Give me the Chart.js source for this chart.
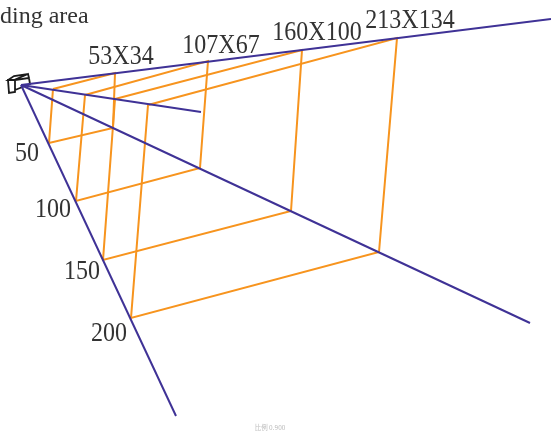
<!DOCTYPE html>
<html lang="en">
<head>
    <meta charset="UTF-8">
    <title>Sliding area</title>
    <script src="https://cdn.jsdelivr.net/npm/chart.js@4"></script>
    <style>
        html, body { margin: 0; padding: 0; background: #fff; overflow: hidden; }
        canvas { display: block; filter: blur(0.5px); }
    </style>
</head>
<body>
    <canvas id="grafica" width="551" height="434"></canvas>
    <script>
// apex of the view frustum
const apexX = 21;
const apexY = 85;

// far ends of the four blue rays
const rayEndX = [551, 201, 530, 176];
const rayEndY = [19, 112, 323, 416];

// corners of the four orange frames, nearest frame first
const topLeftX = [53, 85, 115, 148];
const topLeftY = [89, 95, 99, 105];
const topRightX = [115, 208, 302, 397];
const topRightY = [73, 61, 50, 38];
const bottomRightX = [113, 200, 291, 379];
const bottomRightY = [128, 168, 211, 252];
const bottomLeftX = [49, 76, 103, 131];
const bottomLeftY = [143, 201, 260, 318];

// camera outline
const cameraX = [15, 8, 9, 15, 15, 29, 28, 14, 8, 14, 28, 29, 30, 15];
const cameraY = [80, 80, 93, 92, 80, 78, 74, 76, 80, 80, 74, 78, 84, 90];

// labels
const depthLabels = ['50', '100', '150', '200'];
const sizeLabels = ['53X34', '107X67', '160X100', '213X134'];
const titleText = 'ding area';
const footerText = '比例 0.900';

const blue = '#3f3296';
const orange = '#f7941e';
const textColor = '#333333';
const serif = '"Liberation Serif", serif';

// label offsets from the corner they belong to, in pixels
const sizeOffsetX = [6, 13, 15, 13];
const sizeOffsetY = [-16, -15, -17, -17];
const depthOffsetX = [-22, -23, -21, -22];
const depthOffsetY = [11, 9, 12, 16];

function linea(xs, ys, color, width) {
  return {
    data: xs.map((x, i) => ({ x: x, y: ys[i] })),
    showLine: true,
    borderColor: color,
    borderWidth: width,
    pointRadius: 0,
    tension: 0,
    fill: false
  };
}

const datasets = [];

// first datasets end up on top in Chart.js
rayEndX.forEach((x, i) => {
  datasets.push(linea([apexX, x], [apexY, rayEndY[i]], blue, 2));
});
datasets.push(linea(cameraX, cameraY, '#1a1a1a', 1.8));
topLeftX.forEach((x, i) => {
  datasets.push(linea(
    [x, topRightX[i], bottomRightX[i], bottomLeftX[i], x],
    [topLeftY[i], topRightY[i], bottomRightY[i], bottomLeftY[i], topLeftY[i]],
    orange, 2
  ));
});

// the digits in the picture are a bit taller than the font
function textoAlto(ctx, t, x, y) {
  ctx.save();
  ctx.translate(x, y);
  ctx.scale(1, 1.15);
  ctx.fillText(t, 0, 0);
  ctx.restore();
}

const etiquetas = {
  id: 'etiquetas',
  afterDatasetsDraw(chart) {
    const ctx = chart.ctx;
    const sx = chart.scales.x;
    const sy = chart.scales.y;
    ctx.save();
    ctx.fillStyle = textColor;
    ctx.textBaseline = 'middle';
    ctx.textAlign = 'center';
    ctx.font = '24px ' + serif;
    sizeLabels.forEach((t, i) => {
      textoAlto(ctx, t, sx.getPixelForValue(topRightX[i]) + sizeOffsetX[i], sy.getPixelForValue(topRightY[i]) + sizeOffsetY[i]);
    });
    depthLabels.forEach((t, i) => {
      textoAlto(ctx, t, sx.getPixelForValue(bottomLeftX[i]) + depthOffsetX[i], sy.getPixelForValue(bottomLeftY[i]) + depthOffsetY[i]);
    });
    ctx.textAlign = 'left';
    ctx.textBaseline = 'alphabetic';
    ctx.fillText(titleText, 0, 23);
    ctx.textAlign = 'center';
    ctx.textBaseline = 'middle';
    ctx.fillStyle = '#bbbbbb';
    ctx.font = '6.5px "Noto Sans CJK TC"';
    ctx.fillText(footerText, 270, 428);
    ctx.restore();
  }
};

new Chart(document.getElementById('grafica'), {
  type: 'scatter',
  data: { datasets: datasets },
  plugins: [etiquetas],
  options: {
    responsive: false,
    animation: false,
    layout: { padding: 0 },
    plugins: { legend: { display: false }, tooltip: { enabled: false } },
    scales: {
      x: { type: 'linear', min: 0, max: 551, display: false },
      y: { type: 'linear', min: 0, max: 434, reverse: true, display: false }
    }
  }
});
    </script>
</body>
</html>
